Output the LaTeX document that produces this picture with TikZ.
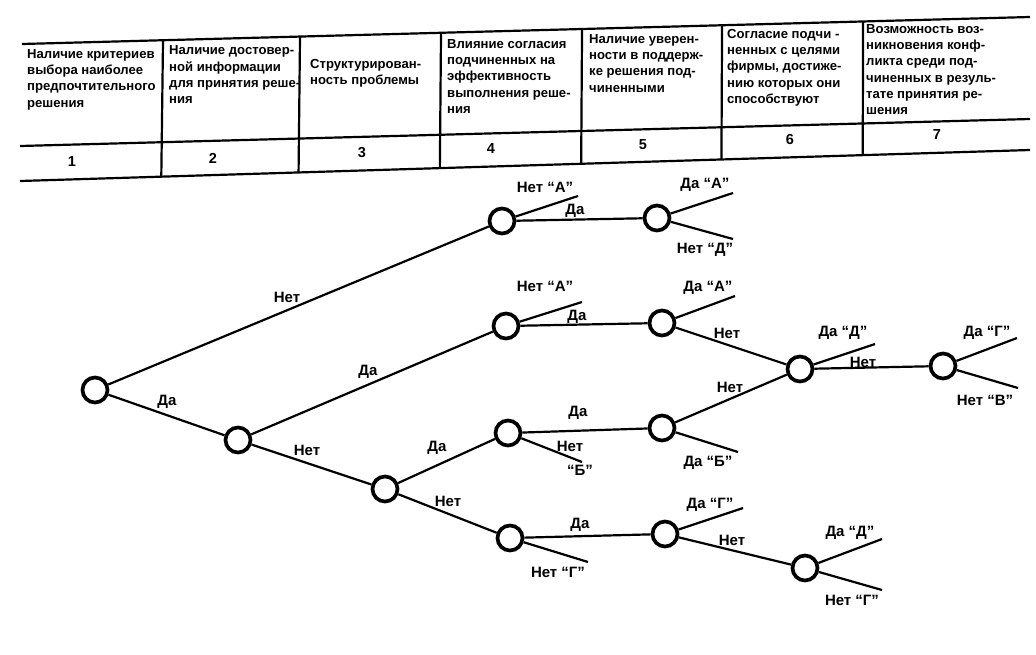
\documentclass[tikz,border=0pt]{standalone}
\usepackage{fontspec}
\newfontfamily\hfont{Liberation Sans}
\usetikzlibrary{calc}
\begin{document}
\begin{tikzpicture}[x=1pt,y=-1pt,
  tline/.style={line width=2.2pt},
  dot/.style={circle,draw,line width=3.7pt,minimum size=25pt,inner sep=0pt},
  edge/.style={line width=2.2pt},
  lab/.style={font=\hfont\bfseries\fontsize{15pt}{17pt}\selectfont, inner sep=0pt},
  hdr/.style={font=\hfont\bfseries\fontsize{13.1pt}{16.3pt}\selectfont, align=left, anchor=north west, inner sep=0pt},
  num/.style={font=\hfont\bfseries\fontsize{14.5pt}{17pt}\selectfont, inner sep=0pt}]
\useasboundingbox[fill=white] (0,0) rectangle (1036,654);
% ---- table ----
\coordinate (tl) at (22,44);
\coordinate (tr) at (1030,17);
\coordinate (ml) at (20,146);
\coordinate (mr) at (1030,119);
\coordinate (bl) at (20,181);
\coordinate (br) at (1030,150);
\draw[tline] (tl) -- (tr);
\draw[tline] (ml) -- (mr);
\draw[tline] (bl) -- (br);
\foreach \f in {0.1399,0.2758,0.4157,0.5556,0.6945,0.8344}
  \draw[tline] ($(tl)!\f!(tr)$) -- ($(bl)!\f!(br)$);
\node[hdr] (h1) at (27,49) {Наличие критериев\\выбора наиболее\\предпочтительного\\решения};
\node[hdr] (h2) at (169,45.5) {Наличие достовер-\\ной информации\\для принятия реше-\\ния};
\node[hdr] (h3) at (310,59) {Структурирован-\\ность проблемы};
\node[hdr] (h4) at (447,39) {Влияние согласия\\подчиненных на\\эффективность\\выполнения реше-\\ния};
\node[hdr] (h5) at (589,34) {Наличие уверен-\\ности в поддерж-\\ке решения под-\\чиненными};
\node[hdr] (h6) at (727,29) {Согласие подчи -\\ненных с целями\\фирмы, достиже-\\нию которых они\\способствуют};
\node[hdr] (h7) at (866,24) {Возможность воз-\\никновения конф-\\ликта среди под-\\чиненных в резуль-\\тате принятия ре-\\шения};
\node[num] (n1) at (72,162) {1};
\node[num] (n2) at (213,158) {2};
\node[num] (n3) at (362,153) {3};
\node[num] (n4) at (491,149) {4};
\node[num] (n5) at (643,145) {5};
\node[num] (n6) at (790,140) {6};
\node[num] (n7) at (937,135) {7};
% ---- tree ----
\node[dot] (R) at (95,390) {};
\node[dot] (A) at (238,440) {};
\node[dot] (B) at (502,221) {};
\node[dot] (C) at (506,326) {};
\node[dot] (D) at (385,489) {};
\node[dot] (E) at (508,433) {};
\node[dot] (F) at (510,538) {};
\node[dot] (B2) at (657,218) {};
\node[dot] (C2) at (662,323) {};
\node[dot] (E2) at (662,428) {};
\node[dot] (F2) at (665,534) {};
\node[dot] (G) at (800,369) {};
\node[dot] (H) at (943,366) {};
\node[dot] (I) at (805,568) {};
\coordinate (Bu) at (578,196);
\coordinate (Cu) at (582,302);
\coordinate (Ed) at (582,462);
\coordinate (Fd) at (588,562);
\coordinate (B2u) at (733,193);
\coordinate (B2d) at (733,239);
\coordinate (C2u) at (735,296);
\coordinate (E2d) at (738,452);
\coordinate (F2u) at (743,508);
\coordinate (Gu) at (875,344);
\coordinate (Hu) at (1017,338);
\coordinate (Hd) at (1018,388);
\coordinate (Iu) at (882,539);
\coordinate (Id) at (882,590);
\draw[edge] (R) -- (B);
\draw[edge] (R) -- (A);
\draw[edge] (A) -- (C);
\draw[edge] (A) -- (D);
\draw[edge] (D) -- (E);
\draw[edge] (D) -- (F);
\draw[edge] (B) -- (B2);
\draw[edge] (C) -- (C2);
\draw[edge] (E) -- (E2);
\draw[edge] (F) -- (F2);
\draw[edge] (C2) -- (G);
\draw[edge] (E2) -- (G);
\draw[edge] (G) -- (H);
\draw[edge] (F2) -- (I);
\draw[edge] (B) -- (Bu);
\draw[edge] (C) -- (Cu);
\draw[edge] (E) -- (Ed);
\draw[edge] (F) -- (Fd);
\draw[edge] (B2) -- (B2u);
\draw[edge] (B2) -- (B2d);
\draw[edge] (C2) -- (C2u);
\draw[edge] (E2) -- (E2d);
\draw[edge] (F2) -- (F2u);
\draw[edge] (G) -- (Gu);
\draw[edge] (H) -- (Hu);
\draw[edge] (H) -- (Hd);
\draw[edge] (I) -- (Iu);
\draw[edge] (I) -- (Id);
% labels
\node[lab] (l1) at (287,297) {Нет};
\node[lab] (l2) at (167,402) {Да};
\node[lab] (l3) at (368,372) {Да};
\node[lab] (l4) at (307,450) {Нет};
\node[lab] (l5) at (437,448) {Да};
\node[lab] (l6) at (448,501) {Нет};
\node[lab] (l7) at (545,187) {Нет “А”};
\node[lab] (l8) at (575,211) {Да};
\node[lab] (l9) at (545,286) {Нет “А”};
\node[lab] (l10) at (577,317) {Да};
\node[lab] (l11) at (578,413) {Да};
\node[lab] (l12) at (570,446) {Нет};
\node[lab] (l13) at (580,470) {“Б”};
\node[lab] (l14) at (580,525) {Да};
\node[lab] (l15) at (558,572) {Нет “Г”};
\node[lab] (l16) at (705,185) {Да “А”};
\node[lab] (l17) at (705,250) {Нет “Д”};
\node[lab] (l18) at (708,288) {Да “А”};
\node[lab] (l19) at (727,333) {Нет};
\node[lab] (l20) at (730,387) {Нет};
\node[lab] (l21) at (708,463) {Да “Б”};
\node[lab] (l22) at (843,333) {Да “Д”};
\node[lab] (l23) at (863,362) {Нет};
\node[lab] (l24) at (987,333) {Да “Г”};
\node[lab] (l25) at (985,400) {Нет “В”};
\node[lab] (l26) at (710,505) {Да “Г”};
\node[lab] (l27) at (732,540) {Нет};
\node[lab] (l28) at (850,533) {Да “Д”};
\node[lab] (l29) at (852,600) {Нет “Г”};
\end{tikzpicture}
\end{document}
